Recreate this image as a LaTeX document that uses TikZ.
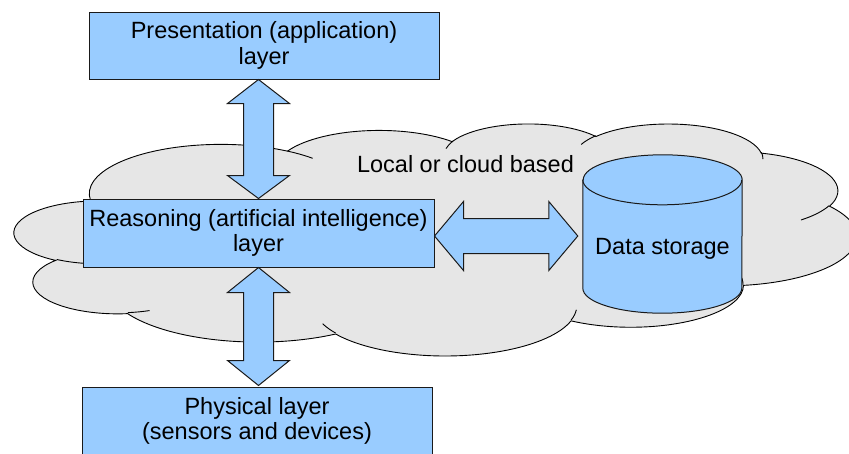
\documentclass[tikz,border=0pt]{standalone}
\usepackage{fontspec}
\setmainfont{Liberation Sans}
\usetikzlibrary{calc}
\definecolor{boxblue}{HTML}{99CCFF}
\definecolor{cloudgray}{HTML}{E6E6E6}
\definecolor{edgecol}{HTML}{1A1A1A}

% OOXML-style arc: wR hR stAng swAng (degrees, visual angles)
\newcommand\oarc[4]{%
  \pgfmathsetmacro\oTa{atan2((#1)*sin(#3),(#2)*cos(#3))}%
  \pgfmathsetmacro\oTb{atan2((#1)*sin((#3)+(#4)),(#2)*cos((#3)+(#4)))}%
  \pgfmathsetmacro\oD{\oTb-\oTa}%
  \pgfmathsetmacro\oD{\oD+360*((#4)>0)*(\oD<0)-360*((#4)<0)*(\oD>0)}%
}
\newcommand\addarc[4]{\oarc{#1}{#2}{#3}{#4}%
  \xdef\cloudpath{\cloudpath arc[start angle=\oTa, delta angle=\oD, x radius=#1, y radius=#2]}}
\newcommand\iarc[6]{\oarc{#3}{#4}{#5}{#6}%
  \draw[cloudline] (#1,#2) arc[start angle=\oTa, delta angle=\oD, x radius=#3, y radius=#4];}

\tikzset{
  txt/.style={font=\fontsize{23.5}{25.5}\selectfont, text=black, align=center, inner sep=0pt},
  layer/.style={txt, draw=edgecol, fill=boxblue, line width=1pt},
  blockarrow/.style={draw=edgecol, fill=boxblue, line width=1pt, line join=miter},
  cloudshape/.style={draw=black, fill=cloudgray, line width=0.9pt},
  cloudline/.style={draw=black, line width=0.9pt},
}

\begin{document}
\begin{tikzpicture}[x=1pt, y=-1pt]
\useasboundingbox (0,0) rectangle (849,453);

% cloud
\begin{scope}[shift={(14.5pt,-123.2pt)}, x=1.949pt, y=-0.5369pt]
  \gdef\cloudpath{}%
  \addarc{67.53}{91.90}{-190.4875}{123.7805}
  \addarc{53.33}{72.67}{-144.1024}{89.9452}
  \addarc{43.65}{59.45}{-145.8079}{99.7230}
  \addarc{48.57}{65.95}{-130.9861}{117.2417}
  \addarc{53.33}{72.73}{-78.7089}{109.0269}
  \addarc{67.75}{92.20}{-46.2673}{130.2690}
  \addarc{57.85}{78.67}{0.6250}{114.0333}
  \addarc{67.52}{92.15}{22.4516}{115.1726}
  \addarc{77.20}{105.43}{66.2426}{75.7110}
  \addarc{43.60}{59.18}{-274.9421}{146.7356}
  \addarc{43.45}{59.45}{-246.8285}{152.5189}
  \path[cloudshape] (39.00,143.70) \cloudpath -- cycle;
  \iarc{46.93}{261.77}{43.45}{59.45}{86.7420}{26.4295}
  \iarc{69.28}{348.99}{43.60}{59.18}{73.6105}{11.4475}
  \iarc{164.78}{390.90}{67.52}{92.15}{137.6242}{14.0811}
  \iarc{288.27}{347.51}{67.52}{92.15}{6.4533}{15.9984}
  \iarc{341.29}{229.54}{57.85}{78.67}{-70.2924}{70.9174}
  \iarc{417.98}{153.54}{53.33}{72.73}{30.3180}{27.7515}
  \iarc{383.24}{54.26}{48.57}{65.95}{-13.7443}{14.8589}
  \iarc{290.78}{39.52}{48.57}{65.95}{-149.1815}{18.1954}
  \iarc{221.41}{47.20}{43.65}{59.45}{-163.4943}{17.6864}
  \iarc{140.00}{51.92}{67.53}{91.90}{-66.7070}{12.3194}
  \iarc{41.27}{157.89}{67.53}{91.90}{157.6544}{11.8582}
\end{scope}

\node[txt] (cloudlabel) at (465.5,164.5) {Local or cloud based};

% layers
\node[layer, minimum width=350pt, minimum height=67pt] (pres) at (264,45.5) {Presentation (application)\\layer};
\node[layer, minimum width=351pt, minimum height=68pt] (reason) at (258.5,233) {Reasoning (artificial intelligence)\\layer};
\node[layer, minimum width=350pt, minimum height=68pt] (phys) at (257,421) {Physical layer\\(sensors and devices)};

% data storage cylinder
\node[minimum width=159pt, minimum height=158pt, inner sep=0pt] (store) at (662.5,234) {};
\path[blockarrow] ([yshift=-25pt]store.north west) -- ([yshift=25pt]store.south west)
  arc[start angle=180, end angle=360, x radius=79.5pt, y radius=25pt]
  -- ([yshift=-25pt]store.north east)
  arc[start angle=0, end angle=180, x radius=79.5pt, y radius=25pt] -- cycle;
\draw[draw=edgecol, line width=1pt] ([yshift=-25pt]store.north west)
  arc[start angle=180, end angle=360, x radius=79.5pt, y radius=25pt];
\node[txt] (storelabel) at (662.5,249) {Data storage};

% block arrows
\coordinate (a1) at (reason.north |- pres.south);
\coordinate (a2) at (reason.north);
\draw[blockarrow] (a1) -- ++(31pt,-24pt) -- ++(-16pt,0pt) -- ($(a2)+(15pt,23pt)$) -- ++(16pt,0pt)
  -- (a2) -- ++(-31pt,23pt) -- ++(16pt,0pt) -- ($(a1)+(-15pt,-24pt)$) -- ++(-16pt,0pt) -- cycle;

\coordinate (b1) at (reason.south);
\path (reason.south |- phys.north) ++(0,1pt) coordinate (b2);
\draw[blockarrow] (b1) -- ++(31pt,-25pt) -- ++(-16pt,0pt) -- ($(b2)+(15pt,25pt)$) -- ++(16pt,0pt)
  -- (b2) -- ++(-31pt,25pt) -- ++(16pt,0pt) -- ($(b1)+(-15pt,-25pt)$) -- ++(-16pt,0pt) -- cycle;

\path (reason.east) ++(0,-3pt) coordinate (c1);
\path (store.west |- c1) ++(-5pt,0) coordinate (c2);
\draw[blockarrow] (c1) -- ++(29pt,34.5pt) -- ++(0pt,-17pt) -- ($(c2)+(-29pt,17.5pt)$) -- ++(0pt,17pt)
  -- (c2) -- ++(-29pt,-34.5pt) -- ++(0pt,17pt) -- ($(c1)+(29pt,-17.5pt)$) -- ++(0pt,-17pt) -- cycle;
\end{tikzpicture}
\end{document}
